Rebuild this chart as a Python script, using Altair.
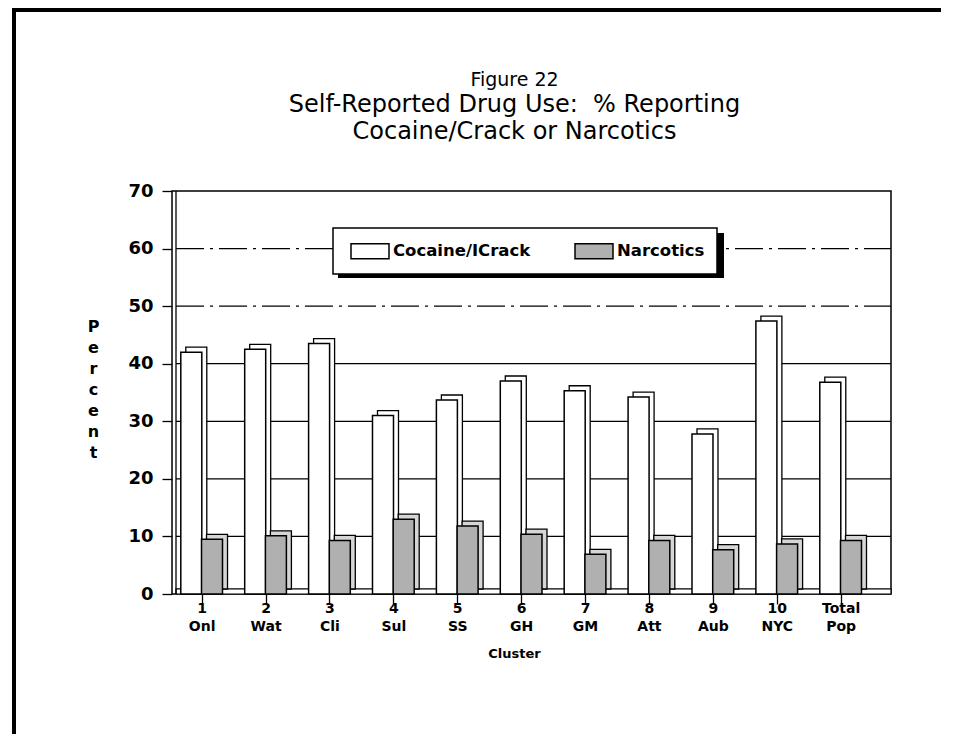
import altair as alt
import pandas as pd

# ---- data ----
cluster_ids = ["1", "2", "3", "4", "5", "6", "7", "8", "9", "10", "Total"]
cluster_names = ["Onl", "Wat", "Cli", "Sul", "SS", "GH", "GM", "Att", "Aub", "NYC", "Pop"]
series_names = ["Cocaine/ICrack", "Narcotics"]
cocaine = [42.0, 42.5, 43.5, 31.0, 33.7, 37.0, 35.3, 34.2, 27.8, 47.4, 36.8]
narcotics = [9.5, 10.1, 9.3, 13.0, 11.8, 10.4, 6.9, 9.3, 7.7, 8.7, 9.3]
y_ticks = [0, 10, 20, 30, 40, 50, 60, 70]
grid_solid = [10, 20, 30, 40]
grid_dashed = [50, 60]

labels = [f"{a}|{b}" for a, b in zip(cluster_ids, cluster_names)]
BAR = 21          # bar width in px
STEP = 64.8       # px per cluster
half = (BAR / 2) / STEP
rows = []
for i, (lab, c, n) in enumerate(zip(labels, cocaine, narcotics)):
    rows.append({"idx": i, "pos": i - half, "series": series_names[0], "value": c})
    rows.append({"idx": i, "pos": i + half, "series": series_names[1], "value": n})
df = pd.DataFrame(rows)
one = pd.DataFrame({"k": [0]})
gs = pd.DataFrame({"g": grid_solid})
gd = pd.DataFrame({"g": grid_dashed})

W, H = 719, 403
FONT = "DejaVu Sans"

x_scale = alt.Scale(domain=[-25 / STEP, (W - 25) / STEP], nice=False, zero=False)
y_scale = alt.Scale(domain=[0, 70], nice=False)
label_expr = "split([" + ",".join(f"'{l}'" for l in labels) + "][datum.value], '|')"

x_axis = alt.Axis(values=list(range(len(labels))), labelExpr=label_expr, labelAngle=0,
                  labelFont=FONT, labelFontWeight="bold", labelFontSize=14, labelLineHeight=18,
                  labelColor="black", labelPadding=-3, labelBaseline="top", labelFlush=False,
                  tickSize=10, tickColor="black", tickWidth=1.3, domain=False, grid=False,
                  title="Cluster", titleFont=FONT, titleFontWeight="bold", titleFontSize=13,
                  titleColor="black", titleX=342, titleY=59, titleAlign="center",
                  titleBaseline="middle")
y_axis = alt.Axis(values=y_ticks, grid=False, domain=False, tickColor="black", tickSize=10,
                  tickWidth=1.3, labelFont=FONT, labelFontWeight="bold", labelFontSize=18,
                  labelColor="black", labelPadding=9,
                  title=["P", "e", "r", "c", "e", "n", "t"], titleAngle=0,
                  titleX=-79, titleY=127, titleAlign="center", titleBaseline="top",
                  titleLineHeight=21, titleFont=FONT, titleFontWeight="bold",
                  titleFontSize=16, titleColor="black")

grid1 = alt.Chart(gs).mark_rule(color="black", strokeWidth=1.3).encode(
    y=alt.Y("g:Q", scale=y_scale, axis=y_axis), x=alt.value(4), x2=alt.value(W)
)
grid2 = alt.Chart(gd).mark_rule(color="black", strokeWidth=1.3, strokeDash=[28, 6, 3, 6]).encode(
    y=alt.Y("g:Q", scale=y_scale), x=alt.value(4), x2=alt.value(W)
)

# floor slab of the 3D plot
floor = alt.Chart(one).mark_rect(fill="white", stroke="black", strokeWidth=1.2).encode(
    x=alt.value(4), x2=alt.value(W), y=alt.datum(0.9), y2=alt.datum(0)
)
# inner wall line
wall = alt.Chart(one).mark_rule(color="black", strokeWidth=1.3).encode(
    x=alt.value(4), y=alt.value(0), y2=alt.value(H)
)

# 3D back faces of the bars
back = alt.Chart(df).mark_bar(width=BAR, stroke="black", strokeWidth=1.3,
                              xOffset=5, yOffset=-5, y2Offset=-5).encode(
    x=alt.X("pos:Q", scale=x_scale),
    y=alt.Y("value:Q", scale=y_scale),
    y2=alt.datum(0),
    fill=alt.condition(alt.datum.series == "Narcotics", alt.value("#d6d6d6"), alt.value("white")),
)

front = alt.Chart(df).mark_bar(width=BAR, stroke="black", strokeWidth=1.5).encode(
    x=alt.X("pos:Q", scale=x_scale, axis=x_axis),
    y=alt.Y("value:Q", scale=y_scale),
    y2=alt.datum(0),
    fill=alt.Fill("series:N", scale=alt.Scale(domain=series_names, range=["white", "#b0b0b0"]),
                  legend=alt.Legend(title=None, orient="none", legendX=161, legendY=37,
                                    direction="horizontal", fillColor="white", strokeColor="black",
                                    padding=12,
                                    symbolType="M-1.9,-0.75H1.9V0.75H-1.9Z", symbolSize=400,
                                    symbolOffset=14,
                                    symbolStrokeColor="black", symbolStrokeWidth=1.5,
                                    labelFont=FONT, labelFontWeight="bold", labelFontSize=16.5,
                                    labelColor="black", labelOffset=12, columnPadding=38)),
)

# legend shadow
shadow = alt.Chart(one).mark_rect(color="black").encode(
    x=alt.value(166), x2=alt.value(552), y=alt.value(42), y2=alt.value(87)
)
# page frame
frame_left = alt.Chart(one).mark_rule(color="black", strokeWidth=4).encode(
    x=alt.value(-158), y=alt.value(-181), y2=alt.value(560)
)
frame_top = alt.Chart(one).mark_rule(color="black", strokeWidth=4).encode(
    x=alt.value(-160), x2=alt.value(800), y=alt.value(-181)
)

chart = alt.layer(grid1, grid2, floor, wall, back, front, shadow, frame_left, frame_top).properties(
    width=W, height=H,
    autosize=alt.AutoSizeParams(type="none"),
    padding={"left": 164, "top": 183, "right": 50, "bottom": 140},
    background="white",
    title=alt.TitleParams(text="Figure 22",
                          subtitle=["Self-Reported Drug Use:\u00a0 % Reporting", "Cocaine/Crack or Narcotics"],
                          font=FONT, fontSize=19, fontWeight="normal", color="black",
                          subtitleFont=FONT, subtitleFontSize=24, subtitleColor="black",
                          subtitleLineHeight=27.5, subtitlePadding=3, anchor="middle", dx=-17,
                          offset=-136),
).configure_view(stroke="black", strokeWidth=1.5).configure_legend(strokeWidth=1.5)

chart.save("out.html", embed_options={"renderer": "svg", "actions": False})
